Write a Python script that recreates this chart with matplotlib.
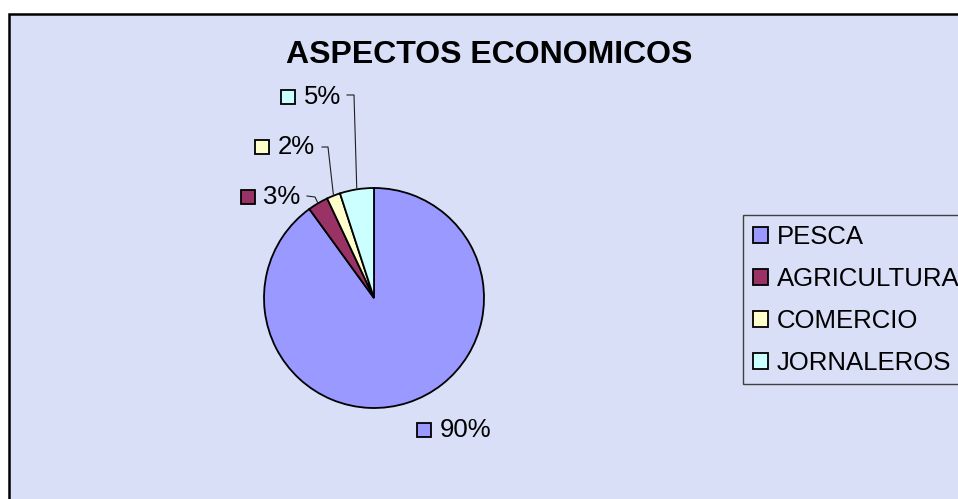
import numpy as np
import matplotlib
matplotlib.use("Agg")
import matplotlib.pyplot as plt
from matplotlib.patches import Rectangle

plt.rcParams["font.family"] = ["Liberation Sans", "DejaVu Sans"]

# datos
categorias = ["PESCA", "AGRICULTURA", "COMERCIO", "JORNALEROS"]
valores = [90, 3, 2, 5]
colores = ["#9999FF", "#993366", "#FFFFCC", "#CCFFFF"]
titulo = "ASPECTOS ECONOMICOS"

bg = "#D8DFF6"
W, H = 958, 499

fig = plt.figure(figsize=(W / 100, H / 100), dpi=100)
fig.patch.set_facecolor("white")
ax = fig.add_axes([0, 0, 1, 1])

# area del grafico (borde negro, se sale por la derecha y abajo)
ax.add_patch(Rectangle((9.5, -20), 1000, H - 13.5 + 20, facecolor=bg,
                       edgecolor="black", linewidth=1.8, zorder=0))

cx, cy, r = 374, H - 298, 110
wedges, _ = ax.pie(valores, colors=colores, startangle=90, counterclock=False,
                   center=(cx, cy), radius=r, frame=True,
                   wedgeprops=dict(edgecolor="black", linewidth=1.3))

# etiquetas: (centro del cuadro x, y en px de imagen, segmento guia)
etiq_pos = {
    "PESCA": (424.5, 430, None),
    "AGRICULTURA": (248, 197, (307, 196, 315, 197)),
    "COMERCIO": (262, 147, (322, 147, 328, 147)),
    "JORNALEROS": (288.5, 97, (347, 95, 354, 95)),
}

total = sum(valores)
ang = 90.0
for nombre, v, col in zip(categorias, valores, colores):
    theta = ang - 360.0 * v / total / 2
    ang -= 360.0 * v / total
    mx = cx + r * np.cos(np.radians(theta))
    my = cy + r * np.sin(np.radians(theta))
    sx, sy, seg = etiq_pos[nombre]
    ax.plot(sx, H - sy, marker="s", ms=9.5, mfc=col, mec="black", mew=1.3,
            clip_on=False)
    ax.text(sx + 15.5, H - sy - 7, "%d%%" % round(100 * v / total),
            fontsize=18.5, ha="left", va="baseline")
    if seg is not None:
        x0, y0, x1, y1 = seg
        ax.plot([x0, x1, mx], [H - y0, H - y1, my], color="#202020", lw=0.8)

ax.set_xlim(0, W)
ax.set_ylim(0, H)
ax.axis("off")

ax.text(489, H - 63, titulo, ha="center", va="baseline", fontsize=23,
        fontweight="bold")

leg = fig.legend(wedges, categorias, loc="upper left",
                 bbox_to_anchor=(743 / W, 1 - 215 / H), borderaxespad=0,
                 fontsize=18.5, fancybox=False, edgecolor="#404040",
                 facecolor=bg, framealpha=1, handlelength=0.58,
                 handleheight=0.58, handletextpad=0.36, labelspacing=0.7,
                 borderpad=0.38)
leg.get_frame().set_linewidth(1.0)

fig.savefig("out.png", dpi=100, facecolor="white")
